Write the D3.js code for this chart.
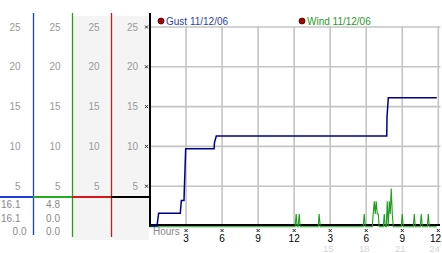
<!DOCTYPE html>
<html><head><meta charset="utf-8">
<script src="https://cdn.jsdelivr.net/npm/d3@7"></script>
<style>
html,body{margin:0;padding:0;background:#fff;}
svg{display:block;font-family:"Liberation Sans",Arial,sans-serif;}
</style></head>
<body>
<svg id="c" width="442" height="253"></svg>
<script>
// ---- data ----
const yTicks = [5, 10, 15, 20, 25];
const hourTicks = [3, 6, 9, 12, 15, 18, 21, 24];
const hourLabels = ["3", "6", "9", "12", "3", "6", "9", "12"];
const hourLabels2 = ["", "", "", "", "15", "18", "21", "24"];
const legendNames = ["Gust 11/12/06", "Wind 11/12/06"];
const gustReadouts = ["16.1", "16.1", "0.0"];
const windReadouts = ["4.8", "0.0", "0.0"];

const gustHours = [0, 0.58, 0.72, 2.52, 2.61, 2.83, 2.97, 5.33, 5.37, 5.52, 19.71, 19.73, 19.84, 23.87];
const gustMph   = [0, 0,    1.6,  1.6,  3.2,  3.2,  9.7,  9.7,  10.5, 11.3, 11.3,  13.7,  16.1,  16.1];

const windHours = [0, 12.08, 12.17, 12.25, 12.33, 12.42, 12.5, 14.0, 14.08, 14.17,
  17.75, 17.83, 17.92, 18.5, 18.58, 18.67, 18.75, 18.83, 18.92, 19.0, 19.08,
  19.42, 19.5, 19.58, 19.67, 19.75, 19.83, 19.92, 20.0, 20.08, 20.17, 20.25,
  20.92, 21.0, 21.08, 21.92, 22.0, 22.08, 22.5, 22.58, 22.67, 23.08, 23.17, 23.25, 23.87];
const windMph = [0, 0, 1.6, 0, 0, 1.6, 0, 0, 1.6, 0,
  0, 1.6, 0, 0, 1.6, 3.2, 1.6, 3.2, 1.6, 1.6, 0,
  0, 1.6, 0, 0, 3.2, 0, 3.2, 1.6, 4.8, 1.6, 0,
  0, 1.6, 0, 0, 1.6, 0, 0, 1.6, 0, 0, 1.6, 0, 0];

// ---- drawing ----
const svg = d3.select("#c");
const x = d3.scaleLinear().domain([0, 24]).range([150, 438.3]);
const y = d3.scaleLinear().domain([0, 25]).range([226, 27]);

const labelGray = "#9a9a9a";

// left panel background
svg.append("rect").attr("x", 73).attr("y", 16).attr("width", 76).attr("height", 224).attr("fill", "#f4f4f4");

// left panel label columns
const colRight = [20.5, 60.5, 99.5, 138];
colRight.forEach(cx => {
  svg.append("g").selectAll("text").data(yTicks).join("text")
    .attr("x", cx).attr("y", d => y(d) + 3.5)
    .attr("text-anchor", "end").attr("font-size", 10).attr("fill", labelGray)
    .text(d => d);
});

// vertical colored separators
const seps = [
  {x: 33.5, y2: 235, c: "#1a3fc0"},
  {x: 72.5, y2: 237, c: "#2a9a2a"},
  {x: 111.5, y2: 237, c: "#b52020"}
];
svg.append("g").selectAll("line").data(seps).join("line")
  .attr("x1", d => d.x).attr("x2", d => d.x).attr("y1", 13).attr("y2", d => d.y2)
  .attr("stroke", d => d.c).attr("stroke-width", 1.3);

// readout bar
const bars = [
  {x1: 0, x2: 33, c: "#1a40d8"},
  {x1: 33, x2: 72, c: "#22aa22"},
  {x1: 72, x2: 111, c: "#d81818"},
  {x1: 111, x2: 149, c: "#000"}
];
svg.append("g").selectAll("line").data(bars).join("line")
  .attr("x1", d => d.x1).attr("x2", d => d.x2).attr("y1", 197).attr("y2", 197)
  .attr("stroke", d => d.c).attr("stroke-width", 2);

// readouts
const rowY = [207.5, 221.5, 235];
const r1x = [20.5, 20.5, 26.5];
svg.append("g").selectAll("text").data(gustReadouts).join("text")
  .attr("x", (d, i) => r1x[i]).attr("y", (d, i) => rowY[i])
  .attr("text-anchor", "end").attr("font-size", 10).attr("fill", "#8a8a8a").text(d => d);
svg.append("g").selectAll("text").data(windReadouts).join("text")
  .attr("x", 60).attr("y", (d, i) => rowY[i])
  .attr("text-anchor", "end").attr("font-size", 10).attr("fill", "#8a8a8a").text(d => d);

// grid
const grid = svg.append("g").attr("stroke", "#c4c4c4").attr("stroke-width", 1.6);
grid.selectAll(".h").data(yTicks).join("line")
  .attr("x1", x(0)).attr("x2", 440.5).attr("y1", d => y(d)).attr("y2", d => y(d));
grid.selectAll(".v").data(hourTicks).join("line")
  .attr("x1", d => x(d)).attr("x2", d => x(d)).attr("y1", y(25) - 1).attr("y2", y(0));

// axes lines
svg.append("line").attr("x1", 150).attr("x2", 150).attr("y1", 13).attr("y2", 227).attr("stroke", "#000").attr("stroke-width", 2);
svg.append("line").attr("x1", 149).attr("x2", 440).attr("y1", 225).attr("y2", 225).attr("stroke", "#000").attr("stroke-width", 2);

// tick markers
function marker(g, cx, cy) {
  g.append("path").attr("d", `M${cx-1.5},${cy-1.5}L${cx+1.5},${cy+1.5}M${cx+1.5},${cy-1.5}L${cx-1.5},${cy+1.5}`)
    .attr("stroke", "#222").attr("stroke-width", 1).attr("fill", "none");
}
const mk = svg.append("g");
yTicks.forEach(v => marker(mk, 146.5, y(v)));
hourTicks.forEach(h => marker(mk, x(h), 230.5));

// x labels
svg.append("g").selectAll("text").data(hourTicks).join("text")
  .attr("x", d => Math.min(x(d), 435.5)).attr("y", 241.5).attr("text-anchor", "middle")
  .attr("font-size", 10).attr("fill", "#000").text((d, i) => hourLabels[i]);
svg.append("g").selectAll("text").data(hourTicks).join("text")
  .attr("x", d => Math.min(x(d) - 2, 434.5)).attr("y", 251.5).attr("text-anchor", "middle")
  .attr("font-size", 9.5).attr("fill", "#d6d6d6").text((d, i) => hourLabels2[i]);
svg.append("text").attr("x", 153).attr("y", 235).attr("font-size", 10).attr("fill", "#8a8a8a").text("Hours");

// series
const gustData = gustHours.map((h, i) => [h, gustMph[i]]);
const windData = windHours.map((h, i) => [h, windMph[i]]);
const line = d3.line().x(d => x(d[0])).y(d => y(d[1]));

svg.append("path").datum(windData).attr("d", line)
  .attr("transform", "translate(0,0.8)")
  .attr("fill", "none").attr("stroke", "#1e9e1e").attr("stroke-width", 1.1);
svg.append("path").datum(gustData).attr("d", line)
  .attr("fill", "none").attr("stroke", "#000088").attr("stroke-width", 1.5);

// legend
const legend = [
  {x: 161, c: "#2a3fb0", name: legendNames[0]},
  {x: 302, c: "#1f9a1f", name: legendNames[1]}
];
legend.forEach(l => {
  svg.append("circle").attr("cx", l.x).attr("cy", 21).attr("r", 3)
    .attr("fill", "#b00000").attr("stroke", "#300").attr("stroke-width", 0.8);
  svg.append("text").attr("x", l.x + 5).attr("y", 24.5).attr("font-size", 10)
    .attr("fill", l.c).text(l.name);
});
</script>
</body></html>
